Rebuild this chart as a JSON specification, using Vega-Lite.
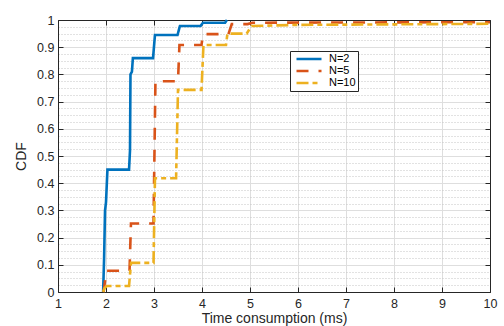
{
  "$schema": "https://vega.github.io/schema/vega-lite/v6.json",
  "width": 432,
  "height": 272,
  "autosize": {"type": "none"},
  "padding": {"left": 58, "top": 20, "right": 14, "bottom": 34},
  "background": "white",
  "config": {
    "view": {"stroke": null},
    "font": "Liberation Sans",
    "axis": {
      "labelFont": "Liberation Sans",
      "titleFont": "Liberation Sans",
      "labelColor": "#262626",
      "titleColor": "#262626",
      "domainColor": "#262626",
      "tickColor": "#262626",
      "domainWidth": 1,
      "tickWidth": 1,
      "labelFontSize": 12.5,
      "titleFontSize": 14,
      "titleFontWeight": "normal"
    }
  },
  "data": {
    "values": [
      {"t": 1.94, "cdf": 0, "series": "N=2"},
      {"t": 1.96, "cdf": 0.12, "series": "N=2"},
      {"t": 1.98, "cdf": 0.30, "series": "N=2"},
      {"t": 2.00, "cdf": 0.33, "series": "N=2"},
      {"t": 2.03, "cdf": 0.45, "series": "N=2"},
      {"t": 2.48, "cdf": 0.45, "series": "N=2"},
      {"t": 2.50, "cdf": 0.52, "series": "N=2"},
      {"t": 2.51, "cdf": 0.80, "series": "N=2"},
      {"t": 2.54, "cdf": 0.81, "series": "N=2"},
      {"t": 2.56, "cdf": 0.86, "series": "N=2"},
      {"t": 2.98, "cdf": 0.86, "series": "N=2"},
      {"t": 3.02, "cdf": 0.945, "series": "N=2"},
      {"t": 3.49, "cdf": 0.945, "series": "N=2"},
      {"t": 3.54, "cdf": 0.978, "series": "N=2"},
      {"t": 3.97, "cdf": 0.978, "series": "N=2"},
      {"t": 4.02, "cdf": 0.99, "series": "N=2"},
      {"t": 4.48, "cdf": 0.99, "series": "N=2"},
      {"t": 4.52, "cdf": 1.0, "series": "N=2"},
      {"t": 1.95, "cdf": 0, "series": "N=5"},
      {"t": 1.98, "cdf": 0.04, "series": "N=5"},
      {"t": 2.01, "cdf": 0.078, "series": "N=5"},
      {"t": 2.49, "cdf": 0.078, "series": "N=5"},
      {"t": 2.52, "cdf": 0.252, "series": "N=5"},
      {"t": 2.99, "cdf": 0.252, "series": "N=5"},
      {"t": 3.03, "cdf": 0.775, "series": "N=5"},
      {"t": 3.50, "cdf": 0.775, "series": "N=5"},
      {"t": 3.53, "cdf": 0.908, "series": "N=5"},
      {"t": 3.99, "cdf": 0.908, "series": "N=5"},
      {"t": 4.02, "cdf": 0.948, "series": "N=5"},
      {"t": 4.55, "cdf": 0.948, "series": "N=5"},
      {"t": 4.62, "cdf": 0.985, "series": "N=5"},
      {"t": 4.95, "cdf": 0.985, "series": "N=5"},
      {"t": 5.05, "cdf": 0.99, "series": "N=5"},
      {"t": 10, "cdf": 0.992, "series": "N=5"},
      {"t": 1.94, "cdf": 0, "series": "N=10"},
      {"t": 1.97, "cdf": 0.015, "series": "N=10"},
      {"t": 2.02, "cdf": 0.022, "series": "N=10"},
      {"t": 2.48, "cdf": 0.022, "series": "N=10"},
      {"t": 2.52, "cdf": 0.107, "series": "N=10"},
      {"t": 2.99, "cdf": 0.107, "series": "N=10"},
      {"t": 3.02, "cdf": 0.418, "series": "N=10"},
      {"t": 3.46, "cdf": 0.418, "series": "N=10"},
      {"t": 3.50, "cdf": 0.743, "series": "N=10"},
      {"t": 3.99, "cdf": 0.743, "series": "N=10"},
      {"t": 4.03, "cdf": 0.908, "series": "N=10"},
      {"t": 4.50, "cdf": 0.908, "series": "N=10"},
      {"t": 4.53, "cdf": 0.95, "series": "N=10"},
      {"t": 4.93, "cdf": 0.95, "series": "N=10"},
      {"t": 5.03, "cdf": 0.978, "series": "N=10"},
      {"t": 6.0, "cdf": 0.982, "series": "N=10"},
      {"t": 10, "cdf": 0.986, "series": "N=10"}
    ]
  },
  "resolve": {"axis": {"x": "independent", "y": "independent"}},
  "layer": [
    {
      "mark": {"type": "line", "strokeWidth": 2.6, "strokeCap": "butt", "strokeJoin": "miter"},
      "encoding": {
        "x": {
          "field": "t", "type": "quantitative",
          "scale": {"domain": [1, 10], "nice": false, "zero": false},
          "axis": {
            "orient": "bottom",
            "values": [1, 2, 3, 4, 5, 6, 7, 8, 9, 10],
            "title": "Time consumption (ms)",
            "titlePadding": 2,
            "tickSize": -5,
            "labelPadding": 10,
            "labelFlush": false,
            "labelOverlap": false,
            "grid": true,
            "gridColor": "#dedede",
            "gridWidth": 1
          }
        },
        "y": {
          "field": "cdf", "type": "quantitative",
          "scale": {"domain": [0, 1], "nice": false},
          "axis": {
            "orient": "left",
            "values": [0, 0.025, 0.05, 0.075, 0.1, 0.125, 0.15, 0.175, 0.2, 0.225, 0.25, 0.275, 0.3, 0.325, 0.35, 0.375, 0.4, 0.425, 0.45, 0.475, 0.5, 0.525, 0.55, 0.575, 0.6, 0.625, 0.65, 0.675, 0.7, 0.725, 0.75, 0.775, 0.8, 0.825, 0.85, 0.875, 0.9, 0.925, 0.95, 0.975, 1],
            "labelExpr": "abs(datum.value*10 - round(datum.value*10)) < 0.001 ? format(datum.value, '~g') : ''",
            "title": "CDF",
            "titlePadding": 8,
            "tickSize": -5,
            "labelPadding": 9,
            "labelFlush": false,
            "labelOverlap": false,
            "grid": true,
            "tickOpacity": {"condition": {"test": "abs(datum.value*10 - round(datum.value*10)) < 0.001", "value": 1}, "value": 0},
            "gridColor": {"condition": {"test": "abs(datum.value*10 - round(datum.value*10)) < 0.001", "value": "#dedede"}, "value": "#c4c4c4"},
            "gridDash": {"condition": {"test": "abs(datum.value*10 - round(datum.value*10)) < 0.001", "value": []}, "value": [1, 2]},
            "gridWidth": 1
          }
        },
        "color": {
          "field": "series", "type": "nominal",
          "scale": {"domain": ["N=2", "N=5", "N=10"], "range": ["#0072BD", "#D95319", "#EDB120"]},
          "legend": {
            "title": null,
            "orient": "none",
            "legendX": 232,
            "legendY": 31,
            "symbolType": "stroke",
            "symbolSize": 625,
            "symbolStrokeWidth": 2.6,
            "symbolOffset": 3,
            "clipHeight": 12,
            "rowPadding": 0,
            "labelFontSize": 11,
            "labelFont": "Liberation Sans",
            "labelColor": "#000000",
            "labelOffset": 6,
            "padding": 2,
            "strokeColor": "#262626",
            "fillColor": "white"
          }
        },
        "strokeDash": {
          "field": "series", "type": "nominal",
          "scale": {"domain": ["N=2", "N=5", "N=10"], "range": [[1, 0], [12, 10], [12, 4, 5, 4]]},
          "legend": null
        }
      }
    },
    {
      "mark": {"type": "point", "opacity": 0},
      "encoding": {
        "x": {
          "field": "t", "type": "quantitative",
          "axis": {
            "orient": "top",
            "values": [1, 2, 3, 4, 5, 6, 7, 8, 9, 10],
            "labels": false,
            "title": null,
            "grid": false,
            "tickSize": -5
          }
        },
        "y": {
          "field": "cdf", "type": "quantitative",
          "axis": {
            "orient": "right",
            "values": [0, 0.1, 0.2, 0.3, 0.4, 0.5, 0.6, 0.7, 0.8, 0.9, 1],
            "labels": false,
            "title": null,
            "grid": false,
            "tickSize": -5
          }
        }
      }
    }
  ]
}
